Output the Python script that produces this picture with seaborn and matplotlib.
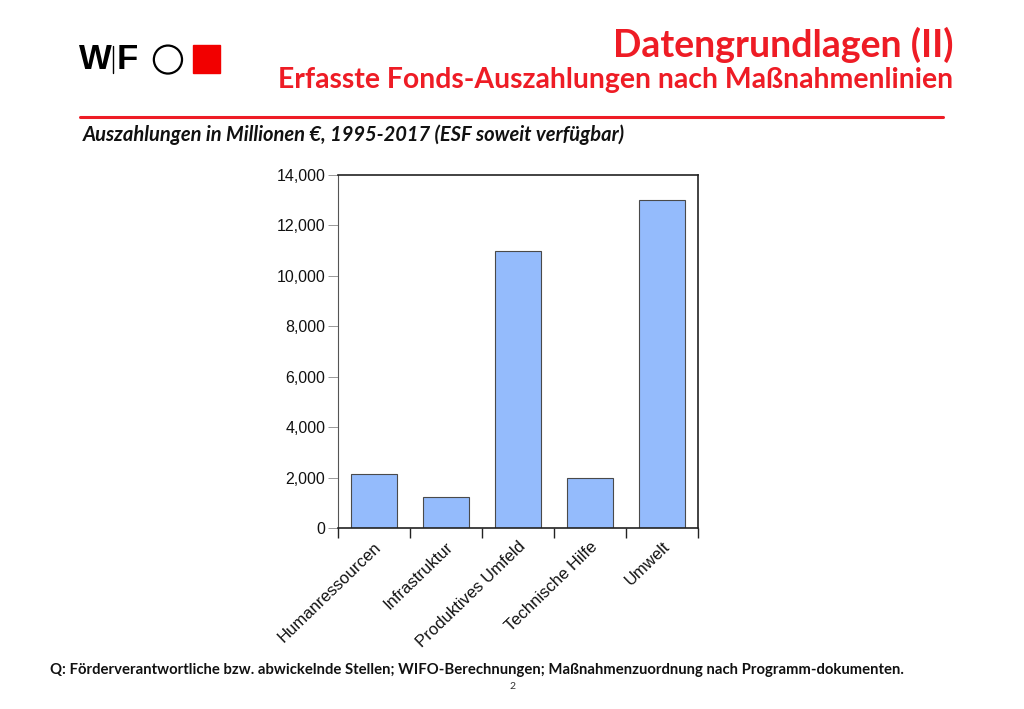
import matplotlib
matplotlib.use("Agg")
import matplotlib.pyplot as plt
import seaborn as sns
import pandas as pd
from matplotlib.ticker import FuncFormatter
from matplotlib.patches import Rectangle, Ellipse
from matplotlib.lines import Line2D

categories = ["Humanressourcen", "Infrastruktur", "Produktives Umfeld", "Technische Hilfe", "Umwelt"]
values = [2150, 1230, 11000, 2000, 13000]
y_ticks = [0, 2000, 4000, 6000, 8000, 10000, 12000, 14000]

RED = "#EE1C25"
BAR = "#94BBFC"

sns.set_theme(style="white")
plt.rcParams["font.family"] = ["Liberation Sans", "DejaVu Sans"]

fig = plt.figure(figsize=(10.24, 7.09), dpi=100)
ax = fig.add_axes([0.330, 0.2553, 0.3516, 0.4979])

df = pd.DataFrame({"cat": categories, "val": values})
sns.barplot(data=df, x="cat", y="val", color=BAR, width=0.64, saturation=1,
            edgecolor="#4a4a4a", linewidth=0.8, ax=ax)

ax.set_xlim(-0.5, len(categories) - 0.5)
ax.set_ylim(0, 14000)
ax.set_yticks(y_ticks)
ax.yaxis.set_major_formatter(FuncFormatter(lambda v, p: f"{int(v):,}"))
ax.set_xlabel("")
ax.set_ylabel("")

# boundary ticks below the axis, labels at bar centres
ax.set_xticks([i - 0.5 for i in range(len(categories) + 1)], [""] * (len(categories) + 1))
ax.set_xticks(range(len(categories)), categories, minor=True)
ax.tick_params(axis="x", which="major", direction="out", length=7, width=1, color="#222222", bottom=True)
ax.tick_params(axis="x", which="minor", length=0, pad=8, labelsize=12, labelcolor="#111111")
for lab in ax.get_xticklabels(minor=True):
    lab.set_rotation(44)
    lab.set_ha("right")
    lab.set_rotation_mode("anchor")
ax.tick_params(axis="y", direction="out", length=7, width=0.6, color="#888888", left=True,
               labelsize=11.5, labelcolor="#111111", pad=2)

for s in ax.spines.values():
    s.set_visible(True)
    s.set_color("#222222")
    s.set_linewidth(1.2)
ax.spines["left"].set_color("#555555")
ax.spines["left"].set_linewidth(0.8)

# header
fig.text(0.931, 0.937, "Datengrundlagen (II)", ha="right", va="center", color=RED,
         fontsize=27, fontweight="bold", family=["Lato", "DejaVu Sans"])
fig.text(0.931, 0.887, "Erfasste Fonds-Auszahlungen nach Maßnahmenlinien", ha="right", va="center",
         color=RED, fontsize=20.4, fontweight="bold", family=["Lato", "DejaVu Sans"])
fig.add_artist(Line2D([0.078, 0.921], [0.835, 0.835], color=RED, linewidth=2.2))

# logo
fig.text(0.077, 0.916, "W", ha="left", va="center", fontsize=25, fontweight="bold",
         color="black", family=["Liberation Sans", "DejaVu Sans"])
fig.add_artist(Line2D([0.1105, 0.1105], [0.897, 0.935], color="black", linewidth=1.0))
fig.text(0.1135, 0.916, "F", ha="left", va="center", fontsize=25, fontweight="bold",
         color="black", family=["Liberation Sans", "DejaVu Sans"])
fig.add_artist(Ellipse((0.1640, 0.916), 0.0275, 0.0395, fill=False, edgecolor="black",
                       linewidth=1.6, transform=fig.transFigure))
fig.add_artist(Rectangle((0.1885, 0.897), 0.0265, 0.039, color="#F20000", transform=fig.transFigure))

fig.text(0.081, 0.810, "Auszahlungen in Millionen €, 1995-2017 (ESF soweit verfügbar)", ha="left",
         va="center", fontsize=14.5, fontweight="bold", style="italic",
         family=["Lato", "DejaVu Sans"], color="#111111")

fig.text(0.049, 0.055, "Q: Förderverantwortliche bzw. abwickelnde Stellen; WIFO-Berechnungen; "
         "Maßnahmenzuordnung nach Programm-dokumenten.", ha="left", va="center", fontsize=10.7,
         fontweight="bold", family=["Lato", "DejaVu Sans"], color="#111111")
fig.text(0.5, 0.032, "2", ha="center", va="center", fontsize=7.5, color="#333333",
         family=["Lato", "DejaVu Sans"])

fig.savefig("out.png", dpi=100)
